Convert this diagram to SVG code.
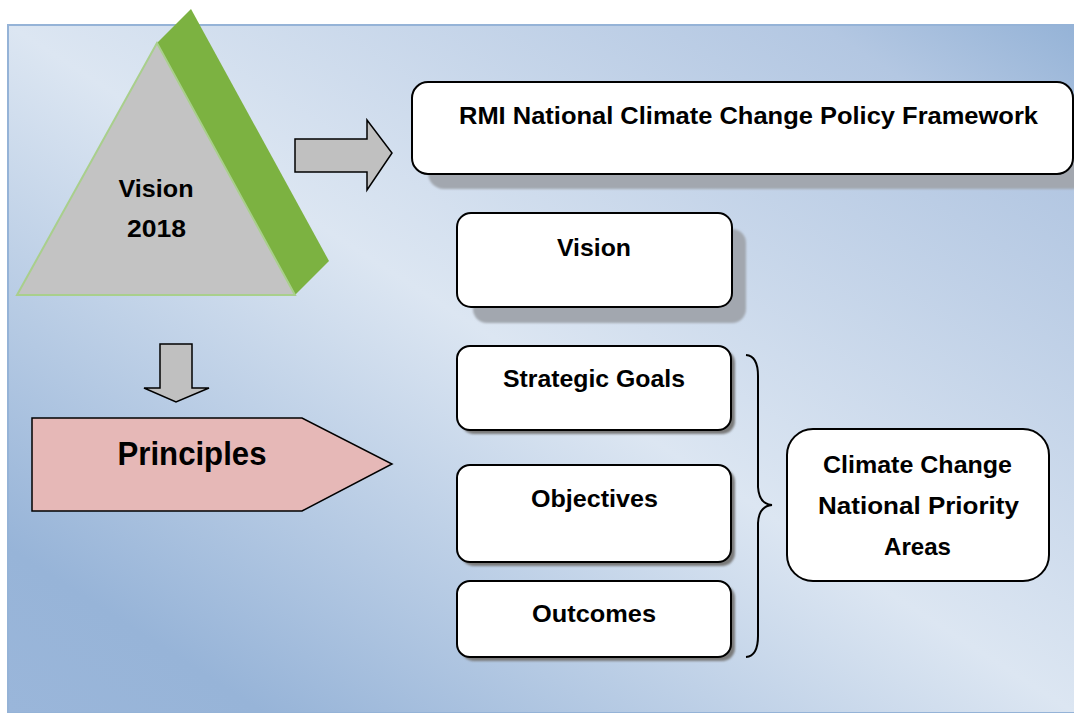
<svg xmlns="http://www.w3.org/2000/svg" width="1074" height="713" viewBox="0 0 1074 713">
<defs>
<linearGradient id="bg" x1="0" y1="1" x2="1" y2="0">
<stop offset="0" stop-color="#9ab6da"/>
<stop offset="0.12" stop-color="#97b4d8"/>
<stop offset="0.5" stop-color="#dce6f2"/>
<stop offset="0.88" stop-color="#b3c7e2"/>
<stop offset="1" stop-color="#95b3d7"/>
</linearGradient>
<filter id="soft" x="-10%" y="-10%" width="120%" height="120%"><feGaussianBlur stdDeviation="1"/></filter>
</defs>
<style>
.t{font-family:"Liberation Sans",Arial,sans-serif;font-weight:bold;fill:#000;text-anchor:middle}
.box{fill:#fff;stroke:#000;stroke-width:2}
.sh{fill:#a2a7af;filter:url(#soft)}
.sh2{fill:#7a7a7a;filter:url(#soft)}
.arr{fill:#c0c0c0;stroke:#000;stroke-width:1.5}
</style>
<rect x="8" y="25" width="1067" height="688" fill="url(#bg)" stroke="#95b3d7" stroke-width="2"/>

<g id="vision2018">
<polygon points="157,43 191,9 329,261 295,295" fill="#7cb241"/>
<polygon points="157,43 17,295 295,295" fill="#c3c3c3" stroke="#a9cf8c" stroke-width="2"/>
<text class="t" x="156" y="197" font-size="24" textLength="75" lengthAdjust="spacingAndGlyphs">Vision</text>
<text class="t" x="156.5" y="237" font-size="24" textLength="59" lengthAdjust="spacingAndGlyphs">2018</text>
</g>

<g id="connectors">
<polygon class="arr" points="295,139 367,139 367,120 392,153 367,190 367,172 295,172"/>
<polygon class="arr" points="160,344 192,344 192,388 209,388 176,402 144,388 160,388"/>
</g>

<g id="principles">
<polygon points="32,418 302,418 392,464 302,511 32,511" fill="#e6b8b7" stroke="#000" stroke-width="1.5"/>
<text class="t" x="192" y="465" font-size="33" textLength="149" lengthAdjust="spacingAndGlyphs">Principles</text>
</g>

<g id="framework">
<rect class="sh" x="428" y="96" width="660" height="93" rx="16"/>
<rect class="box" x="412" y="82" width="661" height="92" rx="16"/>
<text class="t" x="748.5" y="124" font-size="24" textLength="579" lengthAdjust="spacingAndGlyphs">RMI National Climate Change Policy Framework</text>
</g>

<g id="vision">
<rect class="sh" x="473" y="229" width="273" height="94" rx="14"/>
<rect class="box" x="457" y="213" width="275" height="94" rx="14"/>
<text class="t" x="594" y="256" font-size="24" textLength="74" lengthAdjust="spacingAndGlyphs">Vision</text>
</g>

<g id="strategic-goals">
<rect class="sh2" x="461" y="350" width="274" height="84" rx="13"/>
<rect class="box" x="457" y="346" width="274" height="84" rx="13"/>
<text class="t" x="594" y="387" font-size="24" textLength="182" lengthAdjust="spacingAndGlyphs">Strategic Goals</text>
</g>

<g id="objectives">
<rect class="sh2" x="461" y="469" width="274" height="97" rx="13"/>
<rect class="box" x="457" y="465" width="274" height="97" rx="13"/>
<text class="t" x="594.5" y="507" font-size="24" textLength="127" lengthAdjust="spacingAndGlyphs">Objectives</text>
</g>

<g id="outcomes">
<rect class="sh2" x="461" y="585" width="274" height="76" rx="13"/>
<rect class="box" x="457" y="581" width="274" height="76" rx="13"/>
<text class="t" x="594" y="622" font-size="24" textLength="124" lengthAdjust="spacingAndGlyphs">Outcomes</text>
</g>

<g id="brace">
<path d="M746,355 Q758,356 758,376 L758,487 Q759,504 772,505 Q759,506 758,523 L758,636 Q758,656 746,657" fill="none" stroke="#000" stroke-width="2"/>
</g>

<g id="priority-areas">
<rect class="box" x="787" y="429" width="262" height="152" rx="26"/>
<text class="t" x="917.5" y="473" font-size="24" textLength="189" lengthAdjust="spacingAndGlyphs">Climate Change</text>
<text class="t" x="918.5" y="514" font-size="24" textLength="201" lengthAdjust="spacingAndGlyphs">National Priority</text>
<text class="t" x="917.5" y="555" font-size="24" textLength="67" lengthAdjust="spacingAndGlyphs">Areas</text>
</g>
</svg>
